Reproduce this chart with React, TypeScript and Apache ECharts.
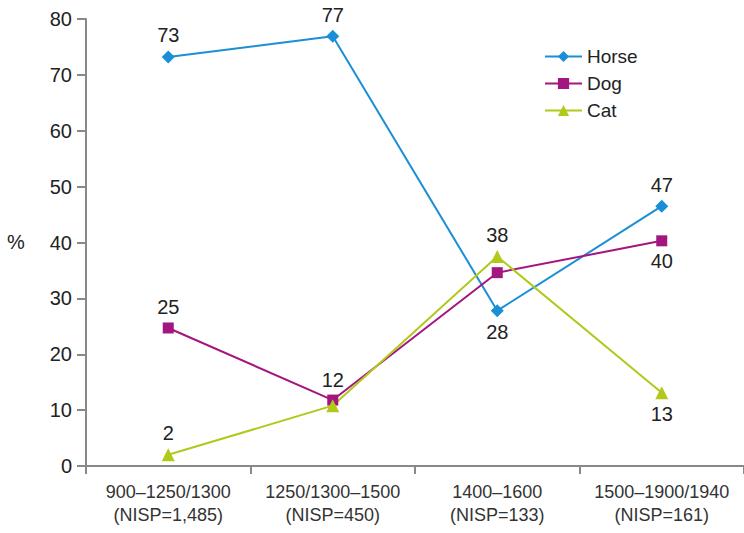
import React, { useEffect, useRef } from "react";
import * as echarts from "echarts";

const categories = ["900–1250/1300\n(NISP=1,485)", "1250/1300–1500\n(NISP=450)", "1400–1600\n(NISP=133)", "1500–1900/1940\n(NISP=161)"];
const horse = [73.2, 76.9, 27.8, 46.5];
const dog = [24.7, 11.8, 34.6, 40.3];
const cat = [2.0, 10.8, 37.5, 13.1];
const horseLabels = ["73", "77", "28", "47"];
const horseLabelPos = ["top", "top", "bottom", "top"];
const dogLabels = ["25", "12", "", "40"];
const dogLabelPos = ["top", "top", "top", "bottom"];
const catLabels = ["2", "", "38", "13"];
const catLabelPos = ["top", "top", "top", "bottom"];

const FONT = "'Liberation Sans', Arial, sans-serif";

function mk(values: number[], labels: string[], pos: string[]) {
  return values.map((v, i) => ({
    value: v,
    label: labels[i]
      ? { show: true, position: pos[i], formatter: labels[i], fontSize: 20, color: "#222", fontFamily: FONT, distance: 5 }
      : { show: false },
  }));
}

export default function App() {
  const ref = useRef<HTMLDivElement>(null);
  useEffect(() => {
    const chart = echarts.init(ref.current!, null, { renderer: "svg" });
    chart.setOption({
      animation: false,
      backgroundColor: "#fff",
      textStyle: { fontFamily: FONT },
      grid: { left: 86, top: 19, width: 660, height: 447 },
      legend: {
        left: 539,
        top: 42,
        orient: "vertical",
        itemGap: 8,
        itemWidth: 37,
        itemHeight: 14,
        textStyle: { fontSize: 19, color: "#222", fontFamily: FONT },
        data: ["Horse", "Dog", "Cat"],
      },
      graphic: [
        { type: "text", left: 7, top: 232, style: { text: "%", fontSize: 20, fill: "#222", fontFamily: FONT } },
      ],
      xAxis: {
        type: "category",
        data: categories,
        boundaryGap: true,
        axisLine: { lineStyle: { color: "#888", width: 2 } },
        axisTick: { show: true, interval: 0, length: 8, lineStyle: { color: "#888", width: 2 } },
        axisLabel: { interval: 0, fontSize: 18, color: "#333", lineHeight: 23, margin: 14, fontFamily: FONT },
      },
      yAxis: {
        type: "value",
        min: 0,
        max: 80,
        interval: 10,
        splitLine: { show: false },
        axisLine: { show: true, lineStyle: { color: "#888", width: 2 } },
        axisTick: { show: true, length: 9, lineStyle: { color: "#888", width: 2 } },
        axisLabel: { fontSize: 20, color: "#222", margin: 14, fontFamily: FONT },
      },
      series: [
        {
          name: "Horse",
          type: "line",
          data: mk(horse, horseLabels, horseLabelPos),
          symbol: "diamond",
          symbolSize: 13,
          itemStyle: { color: "#1a8fd6" },
          lineStyle: { color: "#1a8fd6", width: 2 },
        },
        {
          name: "Dog",
          type: "line",
          data: mk(dog, dogLabels, dogLabelPos),
          symbol: "rect",
          symbolSize: 11,
          itemStyle: { color: "#a3167f" },
          lineStyle: { color: "#a3167f", width: 2 },
        },
        {
          name: "Cat",
          type: "line",
          data: mk(cat, catLabels, catLabelPos),
          symbol: "triangle",
          symbolSize: 13,
          itemStyle: { color: "#b2c91a" },
          lineStyle: { color: "#b2c91a", width: 2 },
        },
      ],
    });
    return () => chart.dispose();
  }, []);
  return <div ref={ref} style={{ width: 744, height: 533, position: "absolute", left: 0, top: 0 }} />;
}
